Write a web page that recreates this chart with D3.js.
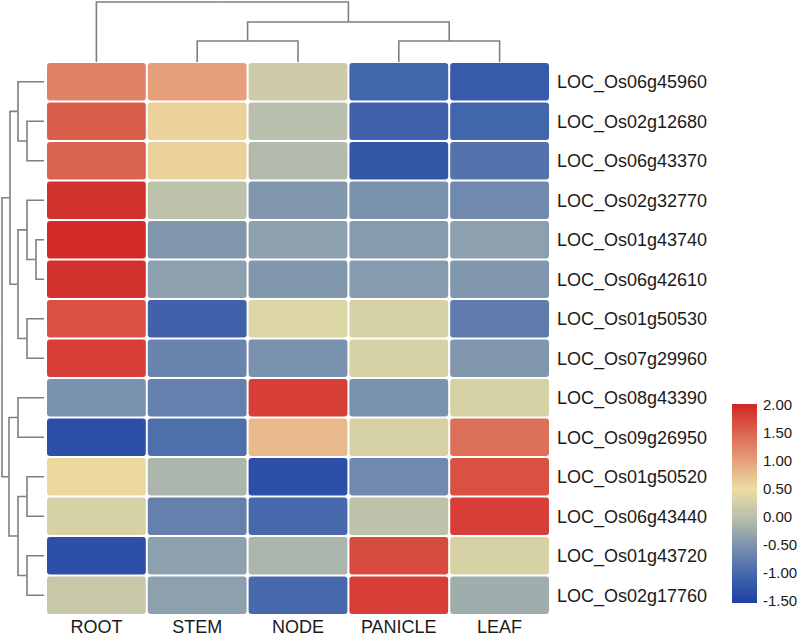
<!DOCTYPE html>
<html>
<head>
<meta charset="utf-8">
<script src="https://cdn.jsdelivr.net/npm/d3@7"></script>
<style>
  html, body { margin: 0; padding: 0; background: #fff; }
  svg { display: block; }
  text { font-family: "Liberation Sans", Arial, sans-serif; fill: #1a1a1a; }
</style>
</head>
<body>
<svg id="chart" width="800" height="637"></svg>
<script>
// ---------- data ----------
const tissues = ["ROOT", "STEM", "NODE", "PANICLE", "LEAF"];
const genes = [
  "LOC_Os06g45960", "LOC_Os02g12680", "LOC_Os06g43370", "LOC_Os02g32770",
  "LOC_Os01g43740", "LOC_Os06g42610", "LOC_Os01g50530", "LOC_Os07g29960",
  "LOC_Os08g43390", "LOC_Os09g26950", "LOC_Os01g50520", "LOC_Os06g43440",
  "LOC_Os01g43720", "LOC_Os02g17760"
];
// values per tissue, in gene order
const rootVals    = [1.25, 1.55, 1.50, 1.90, 1.95, 1.90, 1.65, 1.80, -0.50, -1.30, 0.55, 0.30, -1.30, 0.15];
const stemVals    = [1.00, 0.60, 0.60, 0.05, -0.45, -0.35, -1.05, -0.65, -0.70, -0.90, -0.10, -0.70, -0.35, -0.35];
const nodeVals    = [0.20, 0.00, -0.05, -0.45, -0.35, -0.45, 0.35, -0.50, 1.80, 0.80, -1.30, -0.95, -0.10, -0.95];
const panicleVals = [-1.00, -1.05, -1.20, -0.50, -0.40, -0.40, 0.30, 0.30, -0.50, 0.30, -0.60, 0.05, 1.70, 1.80];
const leafVals    = [-1.15, -1.00, -0.85, -0.60, -0.35, -0.45, -0.75, -0.45, 0.30, 1.40, 1.65, 1.80, 0.30, -0.20];

// legend ticks
const legendTicks = [2.0, 1.5, 1.0, 0.5, 0.0, -0.5, -1.0, -1.5];
const colorStops  = [-1.5, -1.0, -0.5, 0.0, 0.5, 1.0, 1.5, 2.0];
const colorRange  = ["#1f40a3", "#4266ac", "#7b92ae", "#b8bfac", "#ecdea2", "#e5a07b", "#db6450", "#d22526"];

// dendrograms: nested clusters with merge heights
const colTree = { h: 60, children: [
  { name: "ROOT" },
  { h: 40, children: [
    { h: 21, children: [{ name: "STEM" }, { name: "NODE" }] },
    { h: 21, children: [{ name: "PANICLE" }, { name: "LEAF" }] }
  ]}
]};
const rowTree = { h: 42, children: [
  { h: 34, children: [
    { h: 26, children: [
      { name: "LOC_Os06g45960" },
      { h: 17, children: [{ name: "LOC_Os02g12680" }, { name: "LOC_Os06g43370" }] }
    ]},
    { h: 26, children: [
      { h: 17, children: [
        { name: "LOC_Os02g32770" },
        { h: 8, children: [{ name: "LOC_Os01g43740" }, { name: "LOC_Os06g42610" }] }
      ]},
      { h: 17, children: [{ name: "LOC_Os01g50530" }, { name: "LOC_Os07g29960" }] }
    ]}
  ]},
  { h: 35, children: [
    { h: 26, children: [{ name: "LOC_Os08g43390" }, { name: "LOC_Os09g26950" }] },
    { h: 26, children: [
      { h: 17, children: [{ name: "LOC_Os01g50520" }, { name: "LOC_Os06g43440" }] },
      { h: 17, children: [{ name: "LOC_Os01g43720" }, { name: "LOC_Os02g17760" }] }
    ]}
  ]}
]};

// ---------- drawing ----------
const svg = d3.select("#chart");
const valuesByTissue = [rootVals, stemVals, nodeVals, panicleVals, leafVals];
const cells = [];
genes.forEach((g, i) => tissues.forEach((t, j) => cells.push({ gene: g, tissue: t, value: valuesByTissue[j][i] })));

const x = d3.scaleBand().domain(tissues).range([46, 550]).paddingInner(0);
const y = d3.scaleBand().domain(genes).range([62, 615]).paddingInner(0);
const color = d3.scaleLinear().domain(colorStops).range(colorRange).interpolate(d3.interpolateRgb).clamp(true);

svg.append("g").selectAll("rect").data(cells).join("rect")
  .attr("x", d => x(d.tissue) + 1)
  .attr("y", d => y(d.gene) + 1)
  .attr("width", x.bandwidth() - 2)
  .attr("height", y.bandwidth() - 2)
  .attr("rx", 3).attr("ry", 3)
  .attr("fill", d => color(d.value));

// row labels
svg.append("g").selectAll("text").data(genes).join("text")
  .attr("x", 557)
  .attr("y", d => y(d) + y.bandwidth() / 2)
  .attr("dy", "0.35em")
  .attr("font-size", 18)
  .text(d => d);

// column labels
svg.append("g").selectAll("text").data(tissues).join("text")
  .attr("x", d => x(d) + x.bandwidth() / 2)
  .attr("y", 633)
  .attr("text-anchor", "middle")
  .attr("font-size", 18)
  .text(d => d);

// dendrogram helper
function drawDendro(tree, leafPos, hScale, orient) {
  const root = d3.hierarchy(tree);
  root.eachAfter(n => {
    if (!n.children) { n.pos = leafPos(n.data.name); n.hh = 0; }
    else {
      n.pos = (n.children[0].pos + n.children[n.children.length - 1].pos) / 2;
      n.hh = n.data.h;
    }
  });
  const segs = [];
  root.descendants().forEach(n => {
    if (!n.parent) return;
    const p = n.parent;
    if (orient === "left") {
      segs.push(`M${hScale(n.hh)},${n.pos}H${hScale(p.hh)}V${p.pos}`);
    } else {
      segs.push(`M${n.pos},${hScale(n.hh)}V${hScale(p.hh)}H${p.pos}`);
    }
  });
  svg.append("g").selectAll("path").data(segs).join("path")
    .attr("d", d => d)
    .attr("fill", "none")
    .attr("stroke", "#7f7f7f")
    .attr("stroke-width", 1.6);
}
const hRow = d3.scaleLinear().domain([0, 42]).range([44, 2]);
const hCol = d3.scaleLinear().domain([0, 60]).range([62, 2]);
drawDendro(rowTree, n => y(n) + y.bandwidth() / 2, hRow, "left");
drawDendro(colTree, n => x(n) + x.bandwidth() / 2, hCol, "top");

// legend
const legY = d3.scaleLinear().domain([-1.5, 2]).range([601, 405]);
const defs = svg.append("defs");
const grad = defs.append("linearGradient").attr("id", "lg")
  .attr("x1", 0).attr("y1", 1).attr("x2", 0).attr("y2", 0);
grad.selectAll("stop").data(colorStops).join("stop")
  .attr("offset", d => (d - colorStops[0]) / (colorStops[colorStops.length - 1] - colorStops[0]))
  .attr("stop-color", d => color(d));
svg.append("rect").attr("x", 732).attr("y", 404).attr("width", 25).attr("height", 199)
  .attr("fill", "url(#lg)");
svg.append("g").selectAll("text").data(legendTicks).join("text")
  .attr("x", 763)
  .attr("y", d => legY(d))
  .attr("dy", "0.35em")
  .attr("font-size", 15)
  .text(d => d3.format(".2f")(d).replace("\u2212", "-"));
</script>
</body>
</html>
